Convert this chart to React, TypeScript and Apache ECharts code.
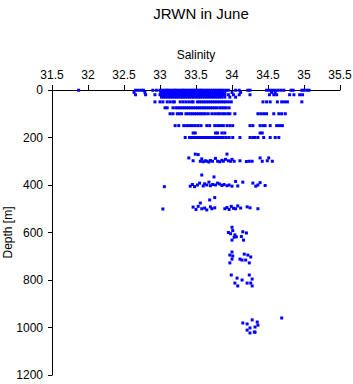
import React, { useEffect, useRef } from "react";
import * as echarts from "echarts";

const FONT = "'Liberation Sans', Arial, Helvetica, sans-serif";

// Salinity values observed at near-constant depths (m)
const sal0 = [31.87, 32.66, 32.7, 32.74, 32.77, 32.9, 32.95, 33.0, 33.03, 33.06, 33.09, 33.11, 33.14, 33.17, 33.2, 33.22, 33.25, 33.28, 33.31, 33.33, 33.36, 33.39, 33.42, 33.45, 33.47, 33.5, 33.53, 33.56, 33.58, 33.61, 33.64, 33.67, 33.7, 33.73, 33.76, 33.79, 33.82, 33.85, 33.88, 33.92, 33.95, 34.05, 34.1, 34.22, 34.25, 34.48, 34.52, 34.56, 34.6, 34.64, 34.68, 34.72, 34.82, 34.85, 34.97, 35.0, 35.04, 35.07];
const sal10 = [32.64, 32.79, 33.01, 33.04, 33.07, 33.1, 33.13, 33.16, 33.19, 33.21, 33.24, 33.27, 33.3, 33.33, 33.35, 33.38, 33.41, 33.44, 33.47, 33.5, 33.52, 33.55, 33.58, 33.61, 33.63, 33.66, 33.69, 33.72, 33.75, 33.78, 33.81, 33.84, 33.87, 33.9, 34.0, 34.12, 34.55, 34.6];
const sal20 = [32.66, 32.8, 32.93, 33.0, 33.03, 33.06, 33.09, 33.12, 33.15, 33.18, 33.21, 33.24, 33.27, 33.3, 33.33, 33.36, 33.39, 33.42, 33.45, 33.48, 33.51, 33.54, 33.57, 33.6, 33.63, 33.66, 33.69, 33.72, 33.75, 33.78, 33.81, 33.84, 33.87, 33.9, 33.95, 34.02, 34.1, 34.25, 34.52, 34.58, 34.62, 34.8, 34.86, 34.94, 34.98];
const sal30 = [33.02, 33.05, 33.08, 33.11, 33.14, 33.17, 33.2, 33.23, 33.26, 33.29, 33.32, 33.35, 33.38, 33.41, 33.44, 33.47, 33.5, 33.53, 33.56, 33.59, 33.62, 33.65, 33.68, 33.71, 33.74, 33.77, 33.8, 33.83, 33.86, 33.9, 33.97, 34.05];
const sal50 = [32.93, 33.0, 33.04, 33.1, 33.14, 33.18, 33.2, 33.28, 33.32, 33.36, 33.4, 33.44, 33.46, 33.52, 33.55, 33.58, 33.61, 33.64, 33.67, 33.7, 33.73, 33.76, 33.79, 33.82, 33.85, 33.88, 33.91, 33.95, 33.99, 34.43, 34.48, 34.53, 34.63, 34.69, 34.73, 34.77, 34.97];
const sal75 = [33.07, 33.1, 33.18, 33.22, 33.25, 33.28, 33.31, 33.34, 33.37, 33.4, 33.43, 33.46, 33.49, 33.52, 33.55, 33.58, 33.61, 33.64, 33.67, 33.7, 33.73, 33.76, 33.79, 33.83, 33.86, 33.89, 33.92, 33.96];
const sal100 = [33.14, 33.18, 33.24, 33.27, 33.3, 33.36, 33.39, 33.42, 33.45, 33.48, 33.51, 33.54, 33.57, 33.6, 33.63, 33.67, 33.72, 33.76, 33.8, 33.83, 33.87, 33.9, 33.94, 33.97, 34.04, 34.36, 34.4, 34.44, 34.48, 34.58, 34.65, 34.69, 34.74];
const sal150 = [33.21, 33.26, 33.33, 33.37, 33.41, 33.45, 33.49, 33.53, 33.57, 33.65, 33.69, 33.76, 33.8, 33.84, 33.88, 33.93, 33.97, 34.01, 34.25, 34.29, 34.39, 34.43, 34.46, 34.53, 34.62, 34.66, 34.7];
const sal180 = [33.46, 33.49, 33.77, 33.8, 33.86, 33.9, 34.39, 34.42];
const sal200 = [33.35, 33.41, 33.44, 33.48, 33.52, 33.55, 33.59, 33.62, 33.66, 33.69, 33.73, 33.77, 33.8, 33.84, 33.88, 33.92, 33.96, 34.01, 34.11, 34.25, 34.29, 34.32, 34.36, 34.44, 34.53, 34.6, 34.65];

// Deeper samples: [salinity, depth]
const deep300 = [[33.4, 286], [33.46, 298], [33.49, 270], [33.53, 272], [33.56, 300], [33.58, 290], [33.6, 302], [33.63, 298], [33.65, 300], [33.68, 303], [33.7, 297], [33.73, 300], [33.77, 288], [33.8, 300], [33.83, 302], [33.86, 296], [33.88, 300], [33.91, 292], [33.93, 270], [33.95, 298], [33.98, 300], [34.0, 292], [34.03, 300], [34.11, 298], [34.2, 301], [34.24, 300], [34.28, 300], [34.39, 286], [34.42, 300], [34.49, 298], [34.51, 286], [34.56, 300]];
const deep400 = [[33.06, 407], [33.42, 405], [33.45, 398], [33.48, 407], [33.52, 400], [33.55, 392], [33.58, 358], [33.6, 404], [33.62, 395], [33.65, 400], [33.68, 388], [33.7, 403], [33.73, 398], [33.75, 366], [33.77, 400], [33.8, 392], [33.83, 396], [33.86, 402], [33.89, 398], [33.93, 403], [33.96, 400], [34.0, 405], [34.05, 385], [34.08, 404], [34.15, 388], [34.29, 392], [34.33, 405], [34.36, 400], [34.39, 390], [34.46, 402]];
const deep500 = [[33.04, 501], [33.46, 493], [33.5, 503], [33.53, 490], [33.56, 476], [33.58, 500], [33.62, 497], [33.65, 505], [33.69, 463], [33.7, 492], [33.72, 500], [33.76, 453], [33.76, 496], [33.9, 500], [33.93, 495], [33.96, 503], [33.99, 490], [34.02, 498], [34.05, 500], [34.08, 488], [34.12, 497], [34.21, 492], [34.25, 496], [34.36, 500]];
const deep600 = [[34.0, 578], [34.01, 592], [33.95, 600], [33.98, 605], [34.06, 618], [34.0, 632], [34.04, 610], [34.15, 597], [34.2, 602], [34.13, 617], [34.16, 632], [34.03, 620]];
const deep700 = [[34.0, 682], [33.97, 695], [34.01, 699], [34.0, 712], [33.97, 728], [34.11, 712], [34.14, 716], [34.17, 691], [34.22, 695], [34.26, 703], [34.19, 716], [34.24, 728]];
const deep800 = [[33.99, 779], [34.07, 792], [34.14, 800], [34.04, 813], [34.08, 825], [34.24, 779], [34.28, 796], [34.21, 813], [34.26, 813], [34.28, 825]];
const deep1000 = [[34.28, 968], [34.15, 981], [34.21, 985], [34.35, 977], [34.36, 990], [34.32, 998], [34.25, 1002], [34.21, 1011], [34.31, 1019], [34.25, 1023], [34.32, 1020], [34.69, 960]];

const xMin = 31.5;
const xMax = 35.5;
const xStep = 0.5;
const yMin = 0;
const yMax = 1200;
const yStep = 200;

export default function App() {
  const ref = useRef<HTMLDivElement>(null);
  useEffect(() => {
    if (!ref.current) return;
    const chart = echarts.init(ref.current, null, { renderer: "svg" });
    const rows: [number[], number][] = [
      [sal0, 1], [sal10, 10], [sal20, 20], [sal30, 30], [sal50, 50], [sal75, 75],
      [sal100, 100], [sal150, 150], [sal180, 181], [sal200, 200],
    ];
    const data: number[][] = [];
    rows.forEach(([arr, d]) => arr.forEach((s) => data.push([s, d])));
    [deep300, deep400, deep500, deep600, deep700, deep800, deep1000].forEach((arr) =>
      arr.forEach((p) => data.push(p))
    );
    chart.setOption({
      animation: false,
      textStyle: { fontFamily: FONT },
      title: {
        text: "JRWN in June",
        left: 196,
        top: 1,
        textAlign: "center",
        textStyle: { fontSize: 15, fontWeight: "normal", color: "#000", fontFamily: FONT },
      },
      grid: { left: 52, right: 13, top: 90, bottom: 9, containLabel: false, outerBoundsMode: "none" },
      xAxis: {
        type: "value",
        position: "top",
        min: xMin,
        max: xMax,
        interval: xStep,
        name: "Salinity",
        nameLocation: "middle",
        nameGap: 29,
        nameMoveOverlap: false,
        nameTextStyle: { fontSize: 12, color: "#000", fontFamily: FONT },
        axisLine: { show: true, onZero: false, lineStyle: { color: "#000", width: 1 } },
        axisTick: { show: true, inside: false, length: 5, lineStyle: { color: "#000" } },
        axisLabel: { fontSize: 12, color: "#000", margin: 9, fontFamily: FONT, formatter: (v: number) => String(v) },
        splitLine: { show: false },
      },
      yAxis: {
        type: "value",
        inverse: true,
        min: yMin,
        max: yMax,
        interval: yStep,
        name: "Depth [m]",
        nameLocation: "middle",
        nameGap: 38,
        nameMoveOverlap: false,
        nameTextStyle: { fontSize: 12, color: "#000", fontFamily: FONT },
        axisLine: { show: true, onZero: false, lineStyle: { color: "#000", width: 1 } },
        axisTick: { show: true, inside: false, length: 4, lineStyle: { color: "#000" } },
        axisLabel: { fontSize: 12, color: "#000", margin: 9, fontFamily: FONT, formatter: (v: number) => String(v) },
        splitLine: { show: false },
      },
      series: [
        {
          type: "scatter",
          data,
          symbol: "rect",
          symbolSize: 3,
          itemStyle: { color: "#0000ff", opacity: 1 },
        },
      ],
    });
    return () => chart.dispose();
  }, []);
  return (
    <div
      ref={ref}
      style={{ position: "fixed", left: 0, top: 0, width: 353, height: 384, background: "#fff" }}
    />
  );
}
